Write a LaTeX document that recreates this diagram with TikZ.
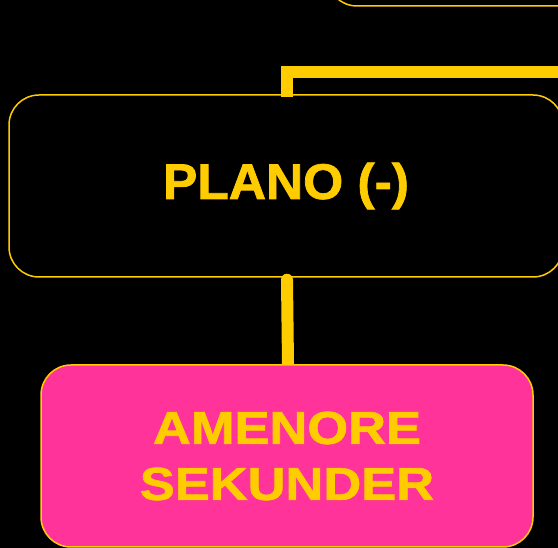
\documentclass[tikz,border=0pt]{standalone}
\usepackage{fontspec}
\setmainfont{Liberation Sans}
\newfontfamily\planofont[FakeStretch=1.03,FakeBold=1.5]{Liberation Sans Bold}
\newfontfamily\pinkfont[FakeStretch=1.14,FakeBold=1.5]{Liberation Sans Bold}
\definecolor{ylw}{HTML}{FFCC00}
\definecolor{pnk}{HTML}{FF3399}
\pgfdeclarelayer{fg}
\pgfsetlayers{main,fg}
\tikzset{
  boxstyle/.style={draw=ylw, line width=1.5pt, rounded corners=30pt, inner sep=0pt, text=ylw, align=center},
  conn/.style={draw=ylw, line width=12pt},
}
\begin{document}
\begin{tikzpicture}[x=1pt,y=-1pt]
\useasboundingbox (0,0) rectangle (558,548);
\clip (0,0) rectangle (558,548);
\fill[black] (0,0) rectangle (558,548);
\node[boxstyle, fill=black, minimum width=293pt, minimum height=46pt] (top) at (473.5,-17) {};
\coordinate (offright) at (600,72.5);
\node[boxstyle, fill=black, minimum width=554pt, minimum height=182pt,
      font=\planofont\fontsize{50}{58}\selectfont] (plano) at (286,186)
  {\raisebox{-4pt}{PLANO (-)}};
\begin{pgfonlayer}{fg}
\node[boxstyle, fill=pnk, minimum width=492pt, minimum height=182pt,
      font=\pinkfont\fontsize{46}{56}\selectfont] (pink) at (287,456)
  {AMENORE\\SEKUNDER};
\end{pgfonlayer}
\draw[conn] ([xshift=1pt,yshift=-3pt]plano.north) -- ++(0,-25.5) -| (offright) -- ++(20,0);
\draw[conn, line cap=round] ([xshift=1pt,yshift=-2pt]plano.south) -- ([xshift=1pt]pink.north);
\end{tikzpicture}
\end{document}
